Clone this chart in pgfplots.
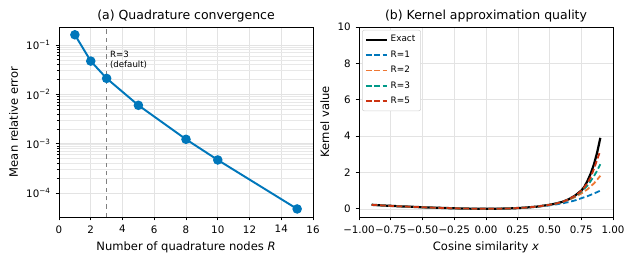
\documentclass[border=0pt]{standalone}
\usepackage{pgfplots}
\pgfplotsset{compat=1.18}
\usepackage{fontspec}
\setmainfont{DejaVu Sans}
\definecolor{tblue}{HTML}{0077BB}
\definecolor{torange}{HTML}{EE7733}
\definecolor{tteal}{HTML}{009988}
\definecolor{tred}{HTML}{CC3311}
\pgfplotsset{
  common/.style={
    scale only axis, width=182.9pt, height=136.8pt,
    axis line style={black, line width=0.6pt},
    tick align=outside, tick pos=left,
    major tick length=2.5pt, minor tick length=1.5pt,
    tick style={black, line width=0.5pt},
    ticklabel style={font=\fontsize{7.4}{8}\selectfont},
    /pgf/number format/assume math mode=true,
    grid style={gray!22, line width=0.4pt},
    minor grid style={gray!18, line width=0.35pt},
    label style={font=\fontsize{8.3}{9}\selectfont},
    title style={font=\fontsize{9}{10}\selectfont, at={(0.5,1)}, anchor=south, yshift=-6pt},
    xlabel style={yshift=1pt},
  }
}
\begin{document}
\begin{tikzpicture}
\path[use as bounding box] (0,0) rectangle (456.48pt,189.36pt);
\begin{axis}[common, at={(42.48pt,33.12pt)}, anchor=south west,
  title={(a) Quadrature convergence},
  xlabel={Number of quadrature nodes \textit{R}},
  ylabel={Mean relative error},
  ymode=log, xmin=0, xmax=16, ymin=3.3e-5, ymax=0.23,
  xtick={0,2,...,16},
  ytick={1e-4,1e-3,1e-2,1e-1},
  yticklabels={10\textsuperscript{−4},10\textsuperscript{−3},10\textsuperscript{−2},10\textsuperscript{−1}},
  grid=both, xminorgrids=false,
  ylabel style={yshift=-1pt},
]
\addplot[gray, dashed, line width=0.6pt, forget plot] coordinates {(3,3.3e-5) (3,0.23)};
\addplot[tblue, line width=1.4pt, mark=*, mark size=2.7pt, mark options={solid, fill=tblue}] coordinates {
(1,0.16) (2,0.047) (3,0.021) (5,0.006) (8,0.00123) (10,0.00047) (15,4.8e-5)
};
\node[anchor=north west, align=left, font=\fontsize{6.2}{7.2}\selectfont, inner sep=0pt] at (axis cs:3.2,0.075) {R=3\\(default)};
\end{axis}
\begin{axis}[common, at={(258.48pt,33.12pt)}, anchor=south west,
  title={(b) Kernel approximation quality},
  xlabel={Cosine similarity \textit{x}},
  ylabel={Kernel value},
  xmin=-1, xmax=1, ymin=-0.45, ymax=10,
  xtick={-1,-0.75,-0.5,-0.25,0,0.25,0.5,0.75,1},
  xticklabels={−1.00,−0.75,−0.50,−0.25,0.00,0.25,0.50,0.75,1.00},
  ytick={0,2,4,6,8,10},
  grid=major,
  ylabel style={yshift=-1pt},
  legend style={font=\fontsize{6.4}{7.5}\selectfont, draw=gray!35, rounded corners=1.5pt, inner sep=1.8pt, row sep=0.9pt, at={(0.012,0.985)}, anchor=north west},
  legend cell align=left,
  legend image code/.code={\draw[#1] (0pt,0pt) -- (15pt,0pt);},
]
\addplot[black, line width=1.6pt] coordinates {
(-0.9,0.22) (-0.8,0.18) (-0.7,0.145) (-0.6,0.115) (-0.5,0.085) (-0.4,0.06) (-0.3,0.04) (-0.2,0.02) (-0.1,0.007) (0,0.0) (0.1,0.005) (0.2,0.025) (0.3,0.06) (0.4,0.12) (0.5,0.22) (0.55,0.29) (0.6,0.38) (0.65,0.52) (0.7,0.72) (0.75,1.0) (0.775,1.22) (0.8,1.55) (0.825,1.95) (0.85,2.45) (0.875,3.1) (0.9,3.9)
};
\addlegendentry{Exact}
\addplot[tblue, line width=1.3pt, dash pattern=on 4pt off 2pt] coordinates {
(-0.9,0.22) (-0.8,0.18) (-0.7,0.145) (-0.6,0.115) (-0.5,0.085) (-0.4,0.06) (-0.3,0.04) (-0.2,0.02) (-0.1,0.007) (0,0.0) (0.1,0.005) (0.2,0.025) (0.3,0.06) (0.4,0.115) (0.5,0.19) (0.55,0.24) (0.6,0.3) (0.65,0.37) (0.7,0.46) (0.75,0.58) (0.8,0.7) (0.85,0.84) (0.9,1.0)
};
\addlegendentry{R=1}
\addplot[torange, line width=1.3pt, dash pattern=on 4pt off 2pt] coordinates {
(-0.9,0.22) (-0.8,0.18) (-0.7,0.145) (-0.6,0.115) (-0.5,0.085) (-0.4,0.06) (-0.3,0.04) (-0.2,0.02) (-0.1,0.007) (0,0.0) (0.1,0.005) (0.2,0.025) (0.3,0.06) (0.4,0.12) (0.5,0.215) (0.55,0.28) (0.6,0.37) (0.65,0.49) (0.7,0.64) (0.75,0.84) (0.8,1.08) (0.85,1.4) (0.875,1.6) (0.9,1.82)
};
\addlegendentry{R=2}
\addplot[tteal, line width=1.3pt, dash pattern=on 4pt off 2pt] coordinates {
(-0.9,0.22) (-0.8,0.18) (-0.7,0.145) (-0.6,0.115) (-0.5,0.085) (-0.4,0.06) (-0.3,0.04) (-0.2,0.02) (-0.1,0.007) (0,0.0) (0.1,0.005) (0.2,0.025) (0.3,0.06) (0.4,0.12) (0.5,0.22) (0.55,0.29) (0.6,0.38) (0.65,0.51) (0.7,0.69) (0.75,0.94) (0.8,1.28) (0.85,1.8) (0.875,2.1) (0.9,2.45)
};
\addlegendentry{R=3}
\addplot[tred, line width=1.3pt, dash pattern=on 4pt off 2pt] coordinates {
(-0.9,0.22) (-0.8,0.18) (-0.7,0.145) (-0.6,0.115) (-0.5,0.085) (-0.4,0.06) (-0.3,0.04) (-0.2,0.02) (-0.1,0.007) (0,0.0) (0.1,0.005) (0.2,0.025) (0.3,0.06) (0.4,0.12) (0.5,0.22) (0.55,0.29) (0.6,0.38) (0.65,0.52) (0.7,0.71) (0.75,0.98) (0.8,1.42) (0.825,1.75) (0.85,2.2) (0.875,2.7) (0.9,3.2)
};
\addlegendentry{R=5}
\end{axis}
\end{tikzpicture}
\end{document}
